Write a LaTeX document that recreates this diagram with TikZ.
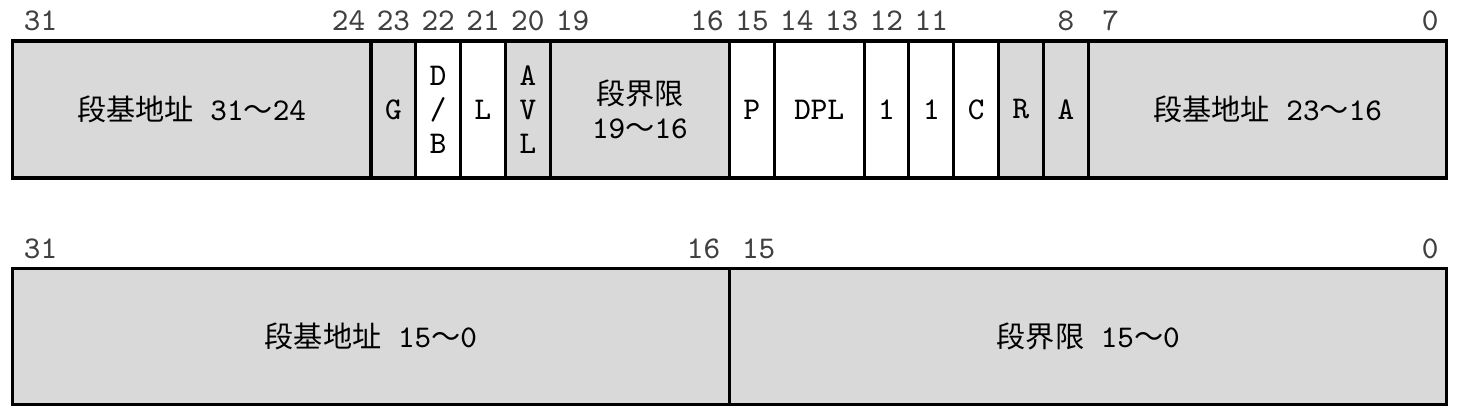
\documentclass[tikz,border=0pt]{standalone}
\usepackage{fontspec}
\newfontfamily\cjkfont{Noto Sans CJK SC}
\definecolor{fieldgray}{HTML}{D9D9D9}
\definecolor{bitgray}{HTML}{404040}
\newcommand{\zh}[1]{{\cjkfont\fontsize{8.3}{9.7}\selectfont #1}}
\newcommand{\rng}[2]{#1\zh{～}#2}

\begin{document}
\begin{tikzpicture}[
  x=0.4483cm, y=-0.01cm,
  field/.style={draw, line width=0.9pt, anchor=north west, inner sep=0pt, outer sep=0pt,
    minimum height=1.37cm, align=center, font=\ttfamily\fontsize{9}{9.7}\selectfont},
  grayfield/.style={field, fill=fieldgray},
  whitefield/.style={field, fill=white},
  bitno/.style={text=bitgray, inner sep=0pt, font=\ttfamily\fontsize{9}{9.7}\selectfont}
]
\useasboundingbox (-0.2744,0) rectangle (32.226,414);

% high word of the descriptor
\node[grayfield, minimum width=8*0.4483cm] (base3124) at (0,41) {\zh{段基地址} \rng{31}{24}};
\node[grayfield, minimum width=0.4483cm] (flagG) at (8,41) {G};
\node[whitefield, minimum width=0.4483cm] (flagDB) at (9,41) {D\\/\\B};
\node[whitefield, minimum width=0.4483cm] (flagL) at (10,41) {L};
\node[grayfield, minimum width=0.4483cm] (flagAVL) at (11,41) {A\\V\\L};
\node[grayfield, minimum width=4*0.4483cm] (lim1916) at (12,41) {\zh{段界限}\\\rng{19}{16}};
\node[whitefield, minimum width=0.4483cm] (flagP) at (16,41) {P};
\node[whitefield, minimum width=2*0.4483cm] (dpl) at (17,41) {DPL};
\node[whitefield, minimum width=0.4483cm] (bit12) at (19,41) {1};
\node[whitefield, minimum width=0.4483cm] (bit11) at (20,41) {1};
\node[whitefield, minimum width=0.4483cm] (flagC) at (21,41) {C};
\node[grayfield, minimum width=0.4483cm] (flagR) at (22,41) {R};
\node[grayfield, minimum width=0.4483cm] (flagA) at (23,41) {A};
\node[grayfield, minimum width=8*0.4483cm] (base2316) at (24,41) {\zh{段基地址} \rng{23}{16}};

\foreach \x/\b in {0.63/31, 7.5/24, 8.5/23, 9.5/22, 10.5/21, 11.5/20, 12.5/19, 15.5/16,
    16.5/15, 17.5/14, 18.5/13, 19.5/12, 20.5/11, 23.5/8, 24.5/7, 31.63/0}
  \node[bitno] (top\b) at (\x,21) {\b};

% low word of the descriptor
\node[grayfield, minimum width=16*0.4483cm, minimum height=1.36cm] (base150) at (0,268.5) {\zh{段基地址} \rng{15}{0}};
\node[grayfield, minimum width=16*0.4483cm, minimum height=1.36cm] (lim150) at (16,268.5) {\zh{段界限} \rng{15}{0}};

\foreach \x/\b in {0.63/31, 15.42/16, 16.65/15, 31.63/0}
  \node[bitno] (low\b) at (\x,249) {\b};
\end{tikzpicture}
\end{document}
